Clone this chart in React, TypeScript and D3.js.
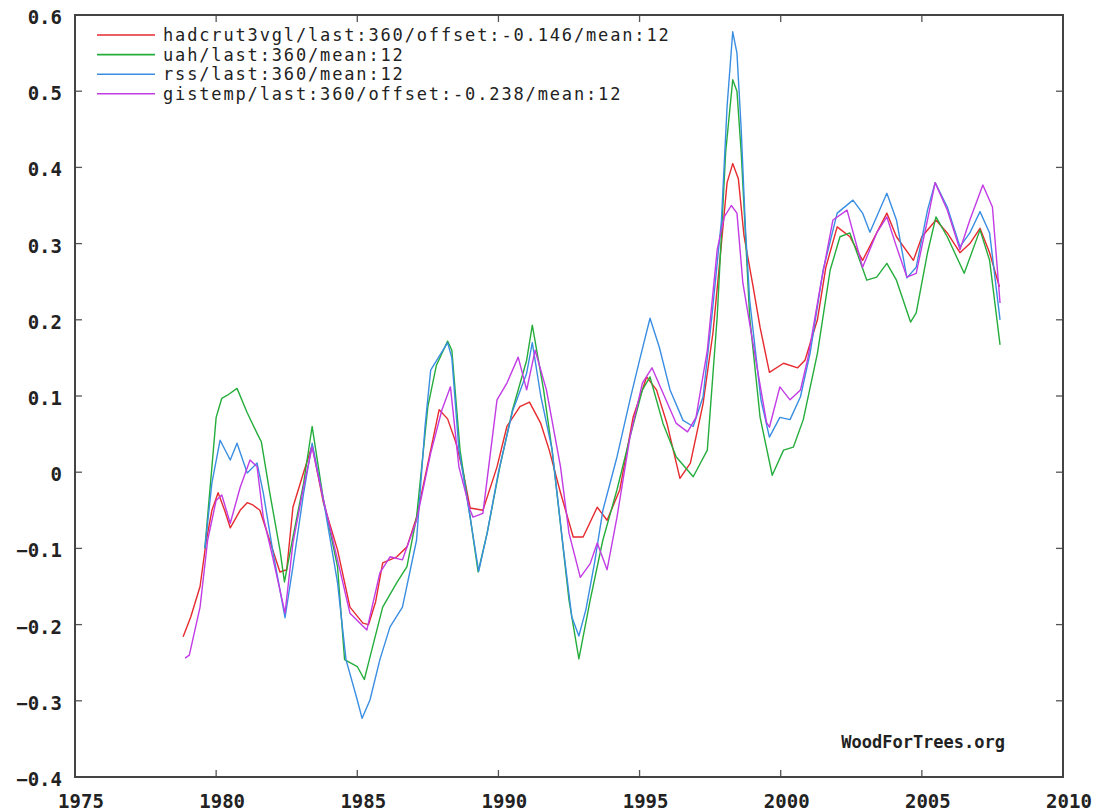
import React, { useEffect, useRef } from 'react';
import * as d3 from 'd3';

const margin = { top: 15, right: 35, bottom: 35, left: 75 };
const width = 1098;
const height = 812;

type Pt = [number, number];

const xTicks = [1975, 1980, 1985, 1990, 1995, 2000, 2005, 2010];
const yTicks = [-0.4, -0.3, -0.2, -0.1, 0, 0.1, 0.2, 0.3, 0.4, 0.5, 0.6];

const seriesNames = [
  'hadcrut3vgl/last:360/offset:-0.146/mean:12',
  'uah/last:360/mean:12',
  'rss/last:360/mean:12',
  'gistemp/last:360/offset:-0.238/mean:12',
];
const seriesColors = ['#e62a2e', '#25ad3c', '#3a8ee2', '#c23be4'];

const hadcrut: Pt[] = [
  [1978.83, -0.216], [1979.1, -0.19], [1979.43, -0.15], [1979.65, -0.09], [1979.85, -0.05],
  [1980.07, -0.027], [1980.3, -0.05], [1980.5, -0.073], [1980.7, -0.06], [1980.85, -0.05],
  [1981.1, -0.04], [1981.3, -0.043], [1981.55, -0.05], [1981.9, -0.09], [1982.26, -0.131],
  [1982.5, -0.128], [1982.72, -0.046], [1983.1, 0.0], [1983.4, 0.035], [1983.8, -0.04],
  [1984.3, -0.102], [1984.74, -0.177], [1985.2, -0.198], [1985.4, -0.2], [1985.65, -0.17],
  [1985.9, -0.119], [1986.4, -0.111], [1986.76, -0.098], [1987.1, -0.059], [1987.6, 0.029],
  [1987.9, 0.082], [1988.2, 0.07], [1988.5, 0.038], [1988.75, 0.0], [1989.0, -0.047],
  [1989.45, -0.05], [1989.95, 0.007], [1990.3, 0.06], [1990.76, 0.086], [1991.1, 0.092],
  [1991.5, 0.064], [1991.8, 0.029], [1992.2, -0.027], [1992.65, -0.085], [1993.0, -0.085],
  [1993.5, -0.046], [1993.85, -0.063], [1994.3, -0.023], [1994.77, 0.072], [1995.25, 0.125],
  [1995.6, 0.108], [1995.97, 0.064], [1996.43, -0.008], [1996.8, 0.012], [1997.25, 0.09],
  [1997.6, 0.183], [1997.9, 0.3], [1998.1, 0.38], [1998.3, 0.405], [1998.5, 0.385],
  [1998.7, 0.31], [1999.0, 0.248], [1999.27, 0.19], [1999.6, 0.131], [2000.1, 0.143],
  [2000.6, 0.137], [2000.86, 0.147], [2001.3, 0.2], [2001.6, 0.269], [2002.0, 0.322],
  [2002.45, 0.309], [2002.9, 0.278], [2003.4, 0.314], [2003.76, 0.34], [2004.1, 0.309],
  [2004.7, 0.278], [2005.0, 0.309], [2005.5, 0.331], [2005.9, 0.314], [2006.35, 0.288],
  [2006.7, 0.3], [2007.06, 0.32], [2007.4, 0.288], [2007.75, 0.243],
];

const uah: Pt[] = [
  [1979.6, -0.1], [1979.85, 0.007], [1980.0, 0.072], [1980.2, 0.097], [1980.4, 0.101],
  [1980.74, 0.11], [1981.1, 0.078], [1981.45, 0.051], [1981.6, 0.04], [1981.9, -0.027],
  [1982.26, -0.102], [1982.42, -0.144], [1982.7, -0.089], [1983.1, -0.014], [1983.4, 0.06],
  [1983.8, -0.036], [1984.3, -0.124], [1984.55, -0.246], [1985.0, -0.255], [1985.25, -0.272],
  [1985.4, -0.25], [1985.9, -0.177], [1986.4, -0.145], [1986.76, -0.124], [1987.1, -0.059],
  [1987.5, 0.086], [1987.8, 0.14], [1988.2, 0.172], [1988.35, 0.16], [1988.64, 0.029],
  [1989.0, -0.059], [1989.28, -0.131], [1989.6, -0.08], [1990.05, 0.007], [1990.5, 0.082],
  [1991.0, 0.147], [1991.2, 0.193], [1991.6, 0.108], [1991.9, 0.029], [1992.3, -0.102],
  [1992.5, -0.168], [1992.85, -0.245], [1993.25, -0.168], [1993.7, -0.089], [1994.2, -0.023],
  [1994.66, 0.046], [1995.1, 0.108], [1995.37, 0.125], [1995.83, 0.064], [1996.3, 0.02],
  [1996.9, -0.006], [1997.4, 0.029], [1997.75, 0.204], [1998.05, 0.42], [1998.3, 0.515],
  [1998.45, 0.5], [1998.6, 0.42], [1998.9, 0.204], [1999.27, 0.072], [1999.7, -0.004],
  [2000.1, 0.029], [2000.45, 0.033], [2000.8, 0.069], [2001.3, 0.156], [2001.75, 0.265],
  [2002.1, 0.309], [2002.45, 0.314], [2003.05, 0.252], [2003.4, 0.256], [2003.76, 0.274],
  [2004.1, 0.252], [2004.6, 0.197], [2004.8, 0.209], [2005.2, 0.288], [2005.5, 0.335],
  [2005.9, 0.309], [2006.5, 0.261], [2007.06, 0.318], [2007.4, 0.278], [2007.77, 0.167],
];

const rss: Pt[] = [
  [1979.6, -0.1], [1979.85, -0.014], [1980.14, 0.042], [1980.5, 0.016], [1980.74, 0.038],
  [1981.1, -0.001], [1981.45, 0.012], [1981.67, -0.027], [1982.0, -0.102], [1982.44, -0.191],
  [1982.72, -0.124], [1983.1, -0.027], [1983.4, 0.038], [1983.8, -0.036], [1984.3, -0.145],
  [1984.6, -0.246], [1985.0, -0.299], [1985.17, -0.323], [1985.45, -0.299], [1985.8, -0.246],
  [1986.16, -0.203], [1986.6, -0.177], [1987.1, -0.089], [1987.4, 0.06], [1987.6, 0.134],
  [1988.2, 0.17], [1988.35, 0.15], [1988.6, 0.03], [1989.0, -0.06], [1989.3, -0.13],
  [1989.6, -0.08], [1990.0, 0.0], [1990.5, 0.08], [1991.0, 0.13], [1991.2, 0.17],
  [1991.5, 0.1], [1991.9, 0.03], [1992.3, -0.1], [1992.6, -0.19], [1992.85, -0.215],
  [1993.1, -0.18], [1993.4, -0.12], [1993.7, -0.05], [1994.2, 0.02], [1994.66, 0.095],
  [1995.0, 0.147], [1995.37, 0.202], [1995.7, 0.164], [1996.08, 0.108], [1996.54, 0.068],
  [1996.9, 0.06], [1997.25, 0.099], [1997.56, 0.204], [1997.9, 0.33], [1998.1, 0.48],
  [1998.3, 0.578], [1998.45, 0.55], [1998.6, 0.45], [1998.75, 0.32], [1998.9, 0.226],
  [1999.3, 0.095], [1999.6, 0.046], [1999.97, 0.072], [2000.33, 0.069], [2000.7, 0.099],
  [2001.04, 0.156], [2001.5, 0.265], [2002.0, 0.34], [2002.56, 0.357], [2002.9, 0.34],
  [2003.16, 0.315], [2003.76, 0.366], [2004.1, 0.331], [2004.47, 0.255], [2004.8, 0.269],
  [2005.2, 0.344], [2005.47, 0.38], [2005.9, 0.348], [2006.35, 0.296], [2006.7, 0.314],
  [2007.06, 0.342], [2007.4, 0.314], [2007.77, 0.2],
];

const gistemp: Pt[] = [
  [1978.9, -0.244], [1979.05, -0.24], [1979.43, -0.177], [1979.7, -0.089], [1980.0, -0.037],
  [1980.2, -0.03], [1980.5, -0.067], [1980.85, -0.02], [1981.2, 0.016], [1981.45, 0.007],
  [1981.67, -0.059], [1982.0, -0.111], [1982.44, -0.185], [1982.72, -0.093], [1983.1, -0.019],
  [1983.4, 0.033], [1983.8, -0.036], [1984.3, -0.115], [1984.74, -0.185], [1985.34, -0.207],
  [1985.8, -0.132], [1986.16, -0.111], [1986.6, -0.115], [1987.1, -0.063], [1987.6, 0.025],
  [1988.0, 0.082], [1988.3, 0.112], [1988.6, 0.007], [1989.0, -0.05], [1989.1, -0.059],
  [1989.45, -0.054], [1989.95, 0.095], [1990.3, 0.117], [1990.7, 0.151], [1991.0, 0.108],
  [1991.3, 0.16], [1991.7, 0.108], [1992.2, 0.007], [1992.5, -0.08], [1992.9, -0.138],
  [1993.25, -0.12], [1993.5, -0.093], [1993.85, -0.128], [1994.2, -0.059], [1994.66, 0.046],
  [1995.1, 0.117], [1995.44, 0.137], [1995.83, 0.104], [1996.3, 0.064], [1996.7, 0.053],
  [1997.0, 0.072], [1997.4, 0.16], [1997.75, 0.292], [1998.0, 0.335], [1998.25, 0.35],
  [1998.45, 0.34], [1998.66, 0.248], [1999.16, 0.138], [1999.5, 0.065], [1999.6, 0.059],
  [1999.97, 0.112], [2000.33, 0.095], [2000.7, 0.108], [2000.97, 0.151], [2001.4, 0.243],
  [2001.85, 0.331], [2002.35, 0.344], [2002.9, 0.269], [2003.4, 0.314], [2003.76, 0.335],
  [2004.1, 0.296], [2004.47, 0.256], [2004.8, 0.261], [2005.2, 0.331], [2005.47, 0.38],
  [2005.9, 0.344], [2006.35, 0.292], [2006.7, 0.331], [2007.16, 0.377], [2007.5, 0.348],
  [2007.77, 0.222],
];

const allSeries = [hadcrut, uah, rss, gistemp];

const App = () => {
  const ref = useRef<SVGSVGElement>(null);

  useEffect(() => {
    if (!ref.current) return;
    const root = d3.select(ref.current);
    root.selectAll('*').remove();

    const plotW = width - margin.left - margin.right;
    const plotH = height - margin.top - margin.bottom;

    const x = d3.scaleLinear().domain([1975, 2010]).range([margin.left, margin.left + plotW]);
    const y = d3.scaleLinear().domain([-0.4, 0.6]).range([margin.top + plotH, margin.top]);

    root.append('rect').attr('width', width).attr('height', height).attr('fill', '#fff');

    const labelFont = '"DejaVu Sans Mono", monospace';

    // ticks on all four sides, pointing inward
    const tickLen = 7;
    const tickColor = '#555';
    xTicks.forEach((t) => {
      root.append('line')
        .attr('x1', x(t)).attr('x2', x(t))
        .attr('y1', y(-0.4)).attr('y2', y(-0.4) - tickLen)
        .attr('stroke', tickColor).attr('stroke-width', 1.3);
      root.append('line')
        .attr('x1', x(t)).attr('x2', x(t))
        .attr('y1', y(0.6)).attr('y2', y(0.6) + tickLen)
        .attr('stroke', tickColor).attr('stroke-width', 1.3);
      root.append('text')
        .attr('x', x(t) + 6).attr('y', y(-0.4) + 24)
        .attr('text-anchor', 'middle')
        .attr('dominant-baseline', 'central')
        .attr('font-family', labelFont).attr('font-weight', 'bold').attr('font-size', 19)
        .attr('fill', '#222')
        .text(String(t));
    });
    yTicks.forEach((t) => {
      root.append('line')
        .attr('x1', x(1975)).attr('x2', x(1975) + tickLen)
        .attr('y1', y(t)).attr('y2', y(t))
        .attr('stroke', tickColor).attr('stroke-width', 1.3);
      root.append('line')
        .attr('x1', x(2010)).attr('x2', x(2010) - tickLen)
        .attr('y1', y(t)).attr('y2', y(t))
        .attr('stroke', tickColor).attr('stroke-width', 1.3);
      root.append('text')
        .attr('x', 62).attr('y', y(t) + 2)
        .attr('text-anchor', 'end')
        .attr('dominant-baseline', 'central')
        .attr('font-family', labelFont).attr('font-weight', 'bold').attr('font-size', 19)
        .attr('fill', '#222')
        .text(Math.abs(t) < 1e-9 ? '0' : d3.format('.1f')(t));
    });

    // series
    const line = d3.line<Pt>().x((d) => x(d[0])).y((d) => y(d[1]));
    allSeries.forEach((s, i) => {
      root.append('path')
        .datum(s)
        .attr('d', line)
        .attr('fill', 'none')
        .attr('stroke', seriesColors[i])
        .attr('stroke-width', 1.4)
        .attr('stroke-linejoin', 'round');
    });

    // frame
    root.append('rect')
      .attr('x', x(1975)).attr('y', y(0.6))
      .attr('width', x(2010) - x(1975)).attr('height', y(-0.4) - y(0.6))
      .attr('fill', 'none').attr('stroke', '#444').attr('stroke-width', 2);

    // legend
    const legend = root.append('g');
    seriesNames.forEach((name, i) => {
      const ly = 35 + i * 19.6;
      legend.append('line')
        .attr('x1', 97).attr('x2', 155)
        .attr('y1', ly).attr('y2', ly)
        .attr('stroke', seriesColors[i]).attr('stroke-width', 1.6);
      legend.append('text')
        .attr('x', 163).attr('y', ly)
        .attr('dominant-baseline', 'central')
        .attr('font-family', labelFont).attr('font-size', 17)
        .attr('letter-spacing', 1.85)
        .attr('fill', '#222')
        .text(name);
    });

    root.append('text')
      .attr('x', 1005).attr('y', 742)
      .attr('text-anchor', 'end')
      .attr('dominant-baseline', 'central')
      .attr('font-family', labelFont).attr('font-weight', 'bold').attr('font-size', 17)
      .attr('fill', '#222')
      .text('WoodForTrees.org');
  }, []);

  return (
    <svg
      ref={ref}
      width={width}
      height={height}
      style={{ position: 'absolute', left: 0, top: 0, background: '#fff' }}
    />
  );
};

export default App;
